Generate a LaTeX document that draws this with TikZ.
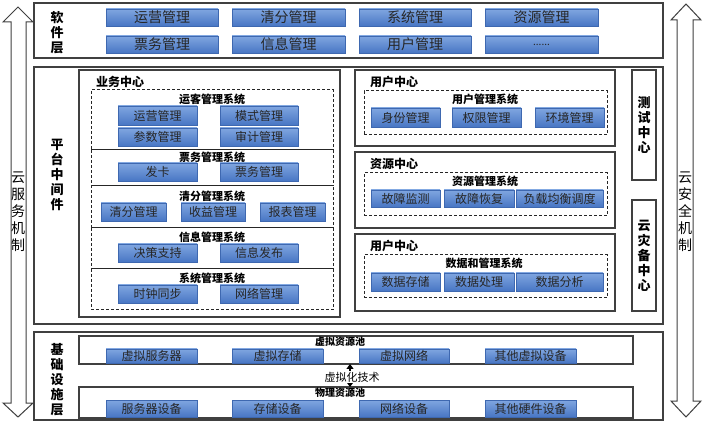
\documentclass[tikz,border=0pt]{standalone}
\usepackage{fontspec}
\setmainfont{Noto Sans CJK SC}
\usetikzlibrary{arrows.meta}
\definecolor{bbtop}{RGB}{128,166,224}
\definecolor{bbbot}{RGB}{72,118,196}
\definecolor{bbline}{RGB}{62,104,176}
\definecolor{frame}{RGB}{64,64,64}
\newcommand{\bb}[6]{\node[bluebox,minimum width={(#4-#2)*1pt},minimum height={(#5-#3)*1pt}] (#1) at ({(#2+#4)/2},{(#3+#5)/2}) {#6};}
\newcommand{\fr}[6]{\node[#6,minimum width={(#4-#2)*1pt},minimum height={(#5-#3)*1pt}] (#1) at ({(#2+#4)/2},{(#3+#5)/2}) {};}
\tikzset{
  bluebox/.style={draw=bbline,line width=0.8pt,top color=bbtop,bottom color=bbbot,inner sep=0pt,font=\fontsize{12}{12}\selectfont,text=black!85},
  topbox/.style={bluebox,font=\fontsize{14}{14}\selectfont},
  frame/.style={draw=frame,line width=1.2pt,inner sep=0pt},
  dbox/.style={draw=black!85,line width=1pt,dash pattern=on 3pt off 2pt,inner sep=0pt},
  systitle/.style={font=\fontsize{11}{11}\selectfont\bfseries,inner sep=0pt},
  ctitle/.style={font=\fontsize{12}{12}\selectfont\bfseries,inner sep=0pt,anchor=west},
  vlabel/.style={font=\fontsize{13}{15}\selectfont\bfseries,align=center,inner sep=0pt},
  sidelabel/.style={font=\fontsize{14}{17}\selectfont,align=center,inner sep=0pt},
  blockarrow/.style={draw=frame,line width=1pt,fill=white}
}
\begin{document}
\begin{tikzpicture}[x=1pt,y=-1pt]
\useasboundingbox (0,0) rectangle (704,427);
% side arrows
\draw[blockarrow] (18,7) -- (33,22) -- (26,22) -- (26,403) -- (33,403) -- (18,417) -- (3,403) -- (11,403) -- (11,22) -- (3,22) -- cycle;
\node[sidelabel] (lsec) at (18,212) {云\\服\\务\\机\\制};
\draw[blockarrow] (686,4) -- (701,20) -- (693,20) -- (693,401) -- (701,401) -- (686,417) -- (671,401) -- (677,401) -- (677,20) -- (671,20) -- cycle;
\node[sidelabel] (rsec) at (685,212) {云\\安\\全\\机\\制};
% software layer
\fr{sw}{34}{3}{663}{58}{frame}
\node[vlabel] (swl) at (57,33) {软\\件\\层};
\node[topbox,minimum width=112pt,minimum height=17pt] (s1) at (162,17.5) {运营管理};
\node[topbox,minimum width=113pt,minimum height=17pt] (s2) at (288.5,17.5) {清分管理};
\node[topbox,minimum width=112pt,minimum height=17pt] (s3) at (415,17.5) {系统管理};
\node[topbox,minimum width=113pt,minimum height=17pt] (s4) at (541.5,17.5) {资源管理};
\node[topbox,minimum width=112pt,minimum height=17pt] (s5) at (162,44.5) {票务管理};
\node[topbox,minimum width=113pt,minimum height=17pt] (s6) at (288.5,44.5) {信息管理};
\node[topbox,minimum width=112pt,minimum height=17pt] (s7) at (415,44.5) {用户管理};
\node[topbox,minimum width=113pt,minimum height=17pt,font=\fontsize{10}{10}\selectfont] (s8) at (541.5,44.5) {......};
% platform layer
\fr{pl}{34}{67}{663}{324}{frame}
\node[vlabel] (pll) at (57,175) {平\\台\\中\\间\\件};
\fr{yw}{79}{70}{340}{317}{frame}
\node[ctitle] (ywt) at (96,82) {业务中心};
\fr{d1}{91}{90}{333}{150}{dbox}
\fr{d2}{91}{150}{333}{186}{dbox}
\fr{d3}{91}{186}{333}{228}{dbox}
\fr{d4}{91}{228}{333}{269}{dbox}
\fr{d5}{91}{269}{333}{310}{dbox}
\node[systitle] (d1t) at (212,99) {运客管理系统};
\node[systitle] (d2t) at (212,157) {票务管理系统};
\node[systitle] (d3t) at (212,196) {清分管理系统};
\node[systitle] (d4t) at (212,237) {信息管理系统};
\node[systitle] (d5t) at (212,278) {系统管理系统};
\bb{a1}{118}{106}{197}{125}{运营管理}
\bb{a2}{220}{106}{298}{125}{模式管理}
\bb{a3}{118}{128}{197}{146}{参数管理}
\bb{a4}{220}{128}{298}{146}{审计管理}
\bb{b1}{118}{163}{197}{181}{发卡}
\bb{b2}{220}{163}{298}{181}{票务管理}
\bb{c1}{101}{203}{166}{221}{清分管理}
\bb{c2}{181}{203}{245}{221}{收益管理}
\bb{c3}{260}{203}{325}{221}{报表管理}
\bb{e1}{118}{244}{197}{262}{决策支持}
\bb{e2}{220}{244}{298}{262}{信息发布}
\bb{f1}{118}{285}{197}{303}{时钟同步}
\bb{f2}{220}{285}{298}{303}{网络管理}
% right centers
\fr{uc}{355}{70}{615}{146}{frame}
\node[ctitle] (uct) at (370,82) {用户中心};
\fr{ucd}{364}{91}{607}{135}{dbox}
\node[systitle] (ucdt) at (485,99) {用户管理系统};
\bb{u1}{371}{108}{440}{127}{身份管理}
\bb{u2}{452}{108}{521}{127}{权限管理}
\bb{u3}{535}{108}{604}{127}{环境管理}
\fr{rc}{355}{152}{615}{228}{frame}
\node[ctitle] (rct) at (370,164) {资源中心};
\fr{rcd}{364}{173}{607}{216}{dbox}
\node[systitle] (rcdt) at (485,181) {资源管理系统};
\bb{r1}{371}{190}{440}{207}{故障监测}
\bb{r2}{444}{190}{514}{207}{故障恢复}
\bb{r3}{516}{190}{603}{207}{负载均衡调度}
\fr{dc}{355}{234}{615}{311}{frame}
\node[ctitle] (dct) at (370,246) {用户中心};
\fr{dcd}{364}{255}{607}{298}{dbox}
\node[systitle] (dcdt) at (484,263) {数据和管理系统};
\bb{g1}{371}{273}{440}{291}{数据存储}
\bb{g2}{444}{273}{514}{291}{数据处理}
\bb{g3}{516}{273}{603}{291}{数据分析}
\fr{tc}{632}{70}{656}{180}{frame}
\node[vlabel] (tct) at (644,125) {测\\试\\中\\心};
\fr{dr}{632}{200}{656}{311}{frame}
\node[vlabel] (drt) at (644,256) {云\\灾\\备\\中\\心};
% infrastructure layer
\fr{inf}{34}{332}{663}{420}{frame}
\node[vlabel] (infl) at (57,380) {基\\础\\设\\施\\层};
\fr{vp}{79}{336}{633}{364}{frame}
\node[systitle,font=\fontsize{10}{10}\selectfont\bfseries] (vpt) at (340,342) {虚拟资源池};
\bb{v1}{106}{349}{197}{363}{虚拟服务器}
\bb{v2}{232}{349}{323}{363}{虚拟存储}
\bb{v3}{359}{349}{449}{363}{虚拟网络}
\bb{v4}{485}{349}{576}{363}{其他虚拟设备}
\fr{pp}{79}{387}{633}{418}{frame}
\node[systitle,font=\fontsize{10}{10}\selectfont\bfseries] (ppt) at (340,393) {物理资源池};
\bb{p1}{106}{400}{197}{417}{服务器设备}
\bb{p2}{232}{400}{323}{417}{存储设备}
\bb{p3}{359}{400}{449}{417}{网络设备}
\bb{p4}{485}{400}{576}{417}{其他硬件设备}
\coordinate (vb) at (350,364);
\coordinate (pt) at (350,387);
\draw[line width=1.5pt,{Triangle[length=5pt,width=7pt]}-{Triangle[length=5pt,width=7pt]}] (vb) -- (pt);
\node[fill=white,inner sep=0.5pt,font=\fontsize{11}{11}\selectfont] (vt) at (352,377) {虚拟化技术};
\end{tikzpicture}
\end{document}
